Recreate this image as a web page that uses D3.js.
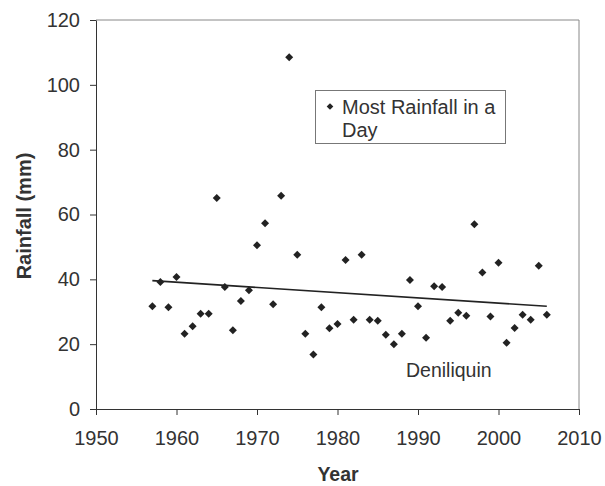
<!DOCTYPE html>
<html><head><meta charset="utf-8">
<script src="https://cdn.jsdelivr.net/npm/d3@7"></script>
<style>body{margin:0;background:#fff}svg{display:block}text{font-family:"Liberation Sans",Arial,sans-serif}</style>
</head><body><svg id="c" width="605" height="486"></svg>
<script>
const years = [1957,1958,1959,1960,1961,1962,1963,1964,1965,1966,1967,1968,1969,1970,1971,1972,1973,1974,1975,1976,1977,1978,1979,1980,1981,1982,1983,1984,1985,1986,1987,1988,1989,1990,1991,1992,1993,1994,1995,1996,1997,1998,1999,2000,2001,2002,2003,2004,2005,2006];
const rainfall = [31.7,39.2,31.4,40.7,23.2,25.5,29.4,29.4,65.1,37.6,24.3,33.3,36.6,50.5,57.3,32.3,65.8,108.5,47.6,23.2,16.8,31.4,24.9,26.2,46.0,27.5,47.6,27.5,27.2,22.9,20.0,23.2,39.8,31.7,22.0,37.9,37.6,27.2,29.7,28.8,57.0,42.1,28.5,45.1,20.4,25.0,29.1,27.5,44.2,29.1];
const trendYears = [1957, 2006];
const trendValues = [39.6, 31.7];
const xTicks = [1950,1960,1970,1980,1990,2000,2010];
const yTicks = [0,20,40,60,80,100,120];
const seriesName = ["Most Rainfall in a", "Day"];
const stationLabel = "Deniliquin";

const svg = d3.select("#c");
const L=96, R=579, T=20, B=409;
const x = d3.scaleLinear().domain([1950,2010]).range([L,R]);
const y = d3.scaleLinear().domain([0,120]).range([B,T]);
const FS = "20px";

svg.append("path").attr("d",`M${L},${T}H${R}V${B}`).attr("fill","none").attr("stroke","#888").attr("stroke-width",1);

const xa = svg.append("g").attr("transform",`translate(0,${B})`)
  .call(d3.axisBottom(x).tickValues(xTicks).tickFormat(d3.format("d")).tickSize(6).tickSizeOuter(0).tickPadding(16));
const ya = svg.append("g").attr("transform",`translate(${L},0)`)
  .call(d3.axisLeft(y).tickValues(yTicks).tickSize(6).tickSizeOuter(0).tickPadding(10));
[xa,ya].forEach(a=>{
  a.select(".domain").attr("stroke","#333");
  a.selectAll(".tick line").attr("stroke","#333");
  a.selectAll(".tick text").attr("fill","#333").style("font-size",FS).style("font-family","'Liberation Sans',Arial,sans-serif");
});

svg.append("line")
  .attr("x1",x(trendYears[0])).attr("y1",y(trendValues[0]))
  .attr("x2",x(trendYears[1])).attr("y2",y(trendValues[1]))
  .attr("stroke","#222").attr("stroke-width",1.6);

const sym = d3.symbol().type(d3.symbolSquare).size(32);
svg.append("g").selectAll("path").data(years).join("path")
  .attr("d",sym())
  .attr("transform",(d,i)=>`translate(${x(d)},${y(rainfall[i])}) rotate(45)`)
  .attr("fill","#222");

svg.append("rect").attr("x",315.5).attr("y",90.5).attr("width",190).attr("height",53)
  .attr("fill","#fff").attr("stroke","#777");
svg.append("path").attr("d",d3.symbol().type(d3.symbolSquare).size(22)())
  .attr("transform","translate(330,106.5) rotate(45)").attr("fill","#222");
svg.append("text").attr("x",342).attr("y",113.5).attr("fill","#333").style("font-size",FS).text(seriesName[0]);
svg.append("text").attr("x",342).attr("y",136.5).attr("fill","#333").style("font-size",FS).text(seriesName[1]);

svg.append("text").attr("x",406).attr("y",377).attr("fill","#333").style("font-size","19.5px").text(stationLabel);

svg.append("text").attr("x",338).attr("y",481).attr("text-anchor","middle").attr("fill","#333")
  .style("font-size","19.5px").style("font-weight","bold").text("Year");
svg.append("text").attr("transform",`translate(31,216) rotate(-90)`).attr("text-anchor","middle").attr("fill","#333")
  .style("font-size","20px").style("font-weight","bold").text("Rainfall (mm)");
</script></body></html>
